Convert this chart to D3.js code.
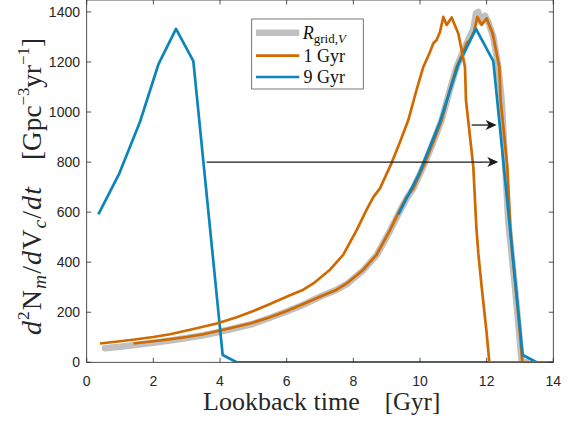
<!DOCTYPE html>
<html>
<head>
<meta charset="utf-8">
<script src="https://cdn.jsdelivr.net/npm/d3@7"></script>
<style>
  html, body { margin: 0; padding: 0; background: #fff; }
  svg { display: block; }
</style>
</head>
<body>
<svg id="chart" width="572" height="421"></svg>
<script>
// ---------------- data (lookback time [Gyr], rate) ----------------
const xTicks = [0, 2, 4, 6, 8, 10, 12, 14];
const yTicks = [0, 200, 400, 600, 800, 1000, 1200, 1400];

const gridV = [[0.55,56],[1.0,62],[1.5,70],[2.0,78],[2.5,87],[3.0,97],[3.5,108],[4.0,122],[4.5,138],[5.0,154],[5.5,178],[6.0,203],[6.5,230],[7.0,262],[7.5,290],[7.8,312],[8.3,368],[8.7,428],[9.1,525],[9.4,605],[9.6,655],[9.8,695],[10.15,797],[10.4,880],[10.65,968],[10.9,1090],[11.1,1180],[11.3,1245],[11.45,1290],[11.6,1330],[11.68,1395],[11.75,1400],[11.82,1360],[11.95,1385],[12.05,1360],[12.2,1300],[12.35,1180],[12.45,1050],[12.55,800],[12.65,560],[12.75,430],[12.85,300],[12.98,110],[13.05,0],[13.2,0]];

const gyr1 = [[0.4,75],[1.0,84],[1.5,92],[2.0,101],[2.5,112],[2.8,121],[3.3,136],[3.9,155],[4.5,180],[5.0,205],[5.5,233],[6.1,268],[6.5,290],[6.8,315],[7.3,370],[7.7,430],[8.1,528],[8.4,610],[8.6,660],[8.8,695],[9.15,797],[9.4,880],[9.65,968],[9.9,1090],[10.1,1180],[10.3,1240],[10.4,1275],[10.5,1288],[10.6,1320],[10.7,1380],[10.8,1348],[10.95,1378],[11.15,1314],[11.35,1180],[11.38,1047],[11.6,781],[11.69,541],[11.75,436],[11.85,302],[12.0,117],[12.08,2],[12.1,0],[14,0]];

const gyr1Shifted = [[1.4,75],[2.0,84],[2.5,92],[3.0,101],[3.5,112],[3.8,121],[4.3,136],[4.9,155],[5.5,180],[6.0,205],[6.5,233],[7.1,268],[7.5,290],[7.8,315],[8.3,370],[8.7,430],[9.1,528],[9.4,610],[9.6,660],[9.8,695],[10.15,797],[10.4,880],[10.65,968],[10.9,1090],[11.1,1180],[11.3,1240],[11.4,1275],[11.5,1288],[11.62,1320],[11.72,1380],[11.85,1348],[12.0,1374],[12.18,1314],[12.38,1180],[12.42,1047],[12.62,781],[12.71,541],[12.77,436],[12.87,302],[13.0,117],[13.07,2],[13.1,0],[14,0]];

const gyr9 = [[0.35,591],[0.98,755],[1.6,961],[2.15,1190],[2.68,1332],[3.2,1203],[4.08,29],[4.5,0],[12.1,0]];

const gyr9Shifted = [[9.35,591],[9.98,755],[10.6,961],[11.15,1190],[11.68,1332],[12.2,1203],[13.08,29],[13.5,0],[14,0]];

// arrows in data units: [t start, t end, value]
const arrows = [[11.55, 12.3, 948], [3.6, 12.35, 800]];

// ---------------- layout ----------------
const svg = d3.select("#chart");
const L = 86.7, R = 553.3, T = -0.6, B = 362.3;
const x = d3.scaleLinear().domain([0, 14]).range([L, R]);
const y = d3.scaleLinear().domain([0, 1450]).range([B, T]);

const colGray = "#c0c0c0", colOrange = "#d06a00", colBlue = "#0c85ba";
const axisCol = "#262626";

svg.append("defs").append("clipPath").attr("id", "clip")
  .append("rect").attr("x", L).attr("y", 0).attr("width", R - L).attr("height", B);

const line = d3.line().x(d => x(d[0])).y(d => y(d[1]));
const g = svg.append("g").attr("clip-path", "url(#clip)");

g.append("path").datum(gridV).attr("d", line)
  .attr("fill", "none").attr("stroke", colGray).attr("stroke-width", 6.5)
  .attr("stroke-linejoin", "round").attr("stroke-linecap", "round");
g.append("path").datum(gyr1Shifted).attr("d", line)
  .attr("fill", "none").attr("stroke", colOrange).attr("stroke-width", 2.7)
  .attr("stroke-linejoin", "round");
g.append("path").datum(gyr9).attr("d", line)
  .attr("fill", "none").attr("stroke", colBlue).attr("stroke-width", 2.7)
  .attr("stroke-linejoin", "round");
g.append("path").datum(gyr9Shifted).attr("d", line)
  .attr("fill", "none").attr("stroke", colBlue).attr("stroke-width", 2.7)
  .attr("stroke-linejoin", "round");
g.append("path").datum(gyr1).attr("d", line)
  .attr("fill", "none").attr("stroke", colOrange).attr("stroke-width", 2.7)
  .attr("stroke-linejoin", "round");

// ---------------- axes ----------------
const ax = svg.append("g");
const tickLen = 4.5;
ax.append("rect").attr("x", L).attr("y", 0).attr("width", R - L).attr("height", B)
  .attr("fill", "none").attr("stroke", axisCol).attr("stroke-width", 0.8);
xTicks.forEach(t => {
  ax.append("line").attr("x1", x(t)).attr("x2", x(t)).attr("y1", B).attr("y2", B - tickLen)
    .attr("stroke", axisCol).attr("stroke-width", 0.8);
  ax.append("line").attr("x1", x(t)).attr("x2", x(t)).attr("y1", 0).attr("y2", tickLen)
    .attr("stroke", axisCol).attr("stroke-width", 0.8);
  ax.append("text").attr("x", x(t)).attr("y", 385.5).attr("text-anchor", "middle")
    .attr("font-family", "Liberation Sans, Arial, sans-serif").attr("font-size", 14)
    .attr("fill", axisCol).text(t);
});
yTicks.forEach(v => {
  ax.append("line").attr("x1", L).attr("x2", L + tickLen).attr("y1", y(v)).attr("y2", y(v))
    .attr("stroke", axisCol).attr("stroke-width", 0.8);
  ax.append("line").attr("x1", R).attr("x2", R - tickLen).attr("y1", y(v)).attr("y2", y(v))
    .attr("stroke", axisCol).attr("stroke-width", 0.8);
  ax.append("text").attr("x", 80).attr("y", y(v) + 5).attr("text-anchor", "end")
    .attr("font-family", "Liberation Sans, Arial, sans-serif").attr("font-size", 14)
    .attr("fill", axisCol).text(v);
});

// ---------------- arrows ----------------
arrows.forEach(a => {
  const x1 = x(a[0]), x2 = x(a[1]), yy = y(a[2]);
  svg.append("line").attr("x1", x1).attr("x2", x2 - 6).attr("y1", yy).attr("y2", yy)
    .attr("stroke", "#1a1a1a").attr("stroke-width", 1.3);
  svg.append("path")
    .attr("d", `M${x2},${yy} L${x2 - 11},${yy - 5} L${x2 - 8},${yy} L${x2 - 11},${yy + 5} Z`)
    .attr("fill", "#1a1a1a");
});

// ---------------- labels ----------------
const serif = "Liberation Serif, Times New Roman, serif";
const xl = svg.append("text").attr("x", 203).attr("y", 410)
  .attr("font-family", serif).attr("font-size", 26).attr("fill", axisCol);
xl.append("tspan").text("Lookback time");
xl.append("tspan").attr("dx", 25).attr("font-size", 25).text("[Gyr]");

// y label: math part occupies y 335..187, unit part 160..38 (scaled to fit)
function yPart(yStart, yEnd, build) {
  const grp = svg.append("g");
  const t = grp.append("text")
    .attr("font-family", serif).attr("font-size", 26).attr("fill", axisCol);
  build(t);
  const len = t.node().getComputedTextLength();
  const target = yStart - yEnd;
  let k = len > 0 ? target / len : 1;
  k = Math.min(k, 1.08);
  if (len > 0) t.attr("textLength", target / k).attr("lengthAdjust", "spacing");
  grp.attr("transform", `translate(41,${yStart}) rotate(-90) scale(${k})`);
}
yPart(335, 187, t => {
  t.append("tspan").attr("font-style", "italic").text("d");
  t.append("tspan").attr("font-size", 16).attr("dy", -11).text("2");
  t.append("tspan").attr("dy", 11).text("N");
  t.append("tspan").attr("font-style", "italic").attr("font-size", 18).attr("dy", 5).text("m");
  t.append("tspan").attr("dy", -5).text("/");
  t.append("tspan").attr("font-style", "italic").text("d");
  t.append("tspan").text("V");
  t.append("tspan").attr("font-style", "italic").attr("font-size", 18).attr("dy", 5).text("c");
  t.append("tspan").attr("dy", -5).text("/");
  t.append("tspan").attr("font-style", "italic").text("dt");
});
yPart(160, 38, t => {
  t.append("tspan").text("[Gpc");
  t.append("tspan").attr("font-size", 16).attr("dy", -11).text("\u22123");
  t.append("tspan").attr("dy", 11).text("yr");
  t.append("tspan").attr("font-size", 16).attr("dy", -11).text("\u22121");
  t.append("tspan").attr("dy", 11).text("]");
});

// ---------------- legend ----------------
const leg = svg.append("g");
leg.append("rect").attr("x", 251.7).attr("y", 19).attr("width", 111.6).attr("height", 70)
  .attr("fill", "#fff").attr("stroke", "#555").attr("stroke-width", 0.8);
const legItems = [
  {col: colGray, w: 6.5, y: 32.7},
  {col: colOrange, w: 2.7, y: 55.7},
  {col: colBlue, w: 2.7, y: 77}
];
legItems.forEach(it => {
  leg.append("line").attr("x1", 256).attr("x2", 299.3).attr("y1", it.y).attr("y2", it.y)
    .attr("stroke", it.col).attr("stroke-width", it.w);
});
const t0 = leg.append("text").attr("x", 302.7).attr("y", 38.5)
  .attr("font-family", serif).attr("font-size", 18).attr("fill", "#111");
t0.append("tspan").attr("font-style", "italic").text("R");
t0.append("tspan").attr("font-size", 13).attr("dy", 4).text("grid,");
t0.append("tspan").attr("font-size", 13).attr("font-style", "italic").text("V");
leg.append("text").attr("x", 303.5).attr("y", 61.5)
  .attr("font-family", serif).attr("font-size", 18).attr("fill", "#111").text("1 Gyr");
leg.append("text").attr("x", 303.5).attr("y", 83)
  .attr("font-family", serif).attr("font-size", 18).attr("fill", "#111").text("9 Gyr");
</script>
</body>
</html>
